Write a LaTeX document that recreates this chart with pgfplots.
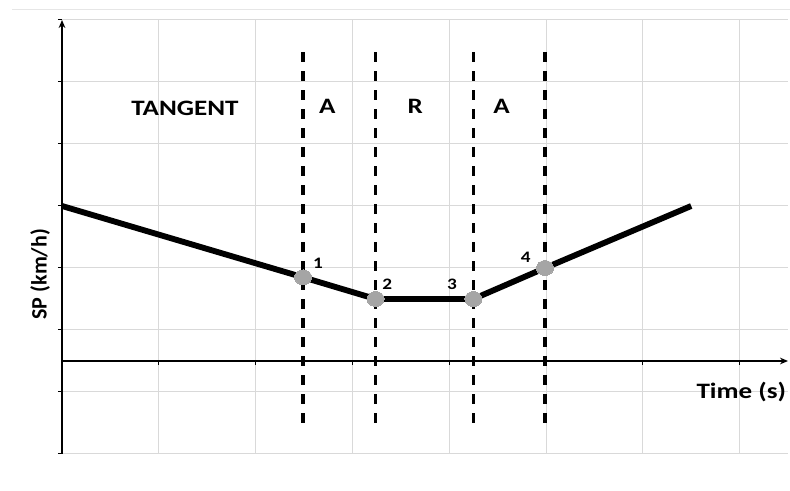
\documentclass[border=0pt]{standalone}
\usepackage{fontspec}
\setmainfont{Carlito}
\usepackage{pgfplots}
\pgfplotsset{compat=1.18}
\usetikzlibrary{arrows.meta}
\definecolor{gridgray}{HTML}{D9D9D9}
\definecolor{dotgray}{HTML}{A5A5A5}
\definecolor{edgegray}{HTML}{E6E6E6}

\begin{document}
\begin{tikzpicture}[
    lbl/.style={font=\bfseries\fontsize{16.5}{19}\selectfont, xscale=1.23},
    num/.style={font=\bfseries\fontsize{12}{14}\selectfont, xscale=1.2},
  ]
\begin{axis}[
    at={(0,0)}, anchor=south west,
    scale only axis, width=544.5pt, height=325.5pt,
    xmin=0, xmax=7.5, ymin=-1.5, ymax=5.5,
    axis x line=middle, axis y line=left,
    axis line style={line width=1.1pt, -{Stealth[length=6pt, width=5pt]}},
    xtick={1,...,7}, ytick={-1.5,-0.5,...,5.5},
    xticklabels={}, yticklabels={},
    tick align=outside, major tick length=3pt,
    tick style={black, line width=0.75pt},
    grid=major, grid style={gridgray, line width=0.75pt},
    clip=false,
  ]
  % curve boundaries
  \addplot[black, line width=2.5pt, dash pattern=on 7.5pt off 6.75pt] coordinates {(2.49,4.98) (2.49,-1.0)};
  \addplot[black, line width=2.5pt, dash pattern=on 7.5pt off 6.75pt] coordinates {(3.24,4.98) (3.24,-1.0)};
  \addplot[black, line width=2.5pt, dash pattern=on 7.5pt off 6.75pt] coordinates {(4.25,4.98) (4.25,-1.0)};
  \addplot[black, line width=2.5pt, dash pattern=on 7.5pt off 6.75pt] coordinates {(4.99,4.98) (4.99,-1.0)};

  % speed profile
  \addplot[black, line width=4.4pt, line join=round] coordinates {
    (0,2.5) (2.49,1.35) (3.24,1.0) (4.25,1.0) (4.99,1.5) (6.5,2.5)};
  \addplot[only marks, draw=dotgray, fill=dotgray, mark=*, mark size=5.6pt,
    mark options={solid, draw=dotgray, fill=dotgray, line width=0pt, xscale=1.15}] coordinates {
    (2.49,1.35) (3.24,1.0) (4.25,1.0) (4.99,1.5)};

  \node[lbl] at (axis cs:1.27,4.08) {TANGENT};
  \node[lbl] at (axis cs:2.74,4.11) {A};
  \node[lbl] at (axis cs:3.65,4.11) {R};
  \node[lbl] at (axis cs:4.54,4.11) {A};

  \node[num] at (axis cs:2.645,1.58) {1};
  \node[num] at (axis cs:3.36,1.23) {2};
  \node[num] at (axis cs:4.03,1.23) {3};
  \node[num] at (axis cs:4.79,1.67) {4};

  \node[lbl, anchor=east, inner sep=1pt] at (axis cs:7.5,-0.5) {Time (s)};
  \node[font=\bfseries\fontsize{16.5}{19}\selectfont, rotate=90] at (axis cs:-0.227,1.40) {SP (km/h)};
\end{axis}
\draw[edgegray, line width=0.75pt] (-37.5pt,333pt) -- (546pt,333pt);
\pgfresetboundingbox
\path[use as bounding box] (-46.5pt,-27.75pt) rectangle (546pt,340.5pt);
\end{tikzpicture}
\end{document}
